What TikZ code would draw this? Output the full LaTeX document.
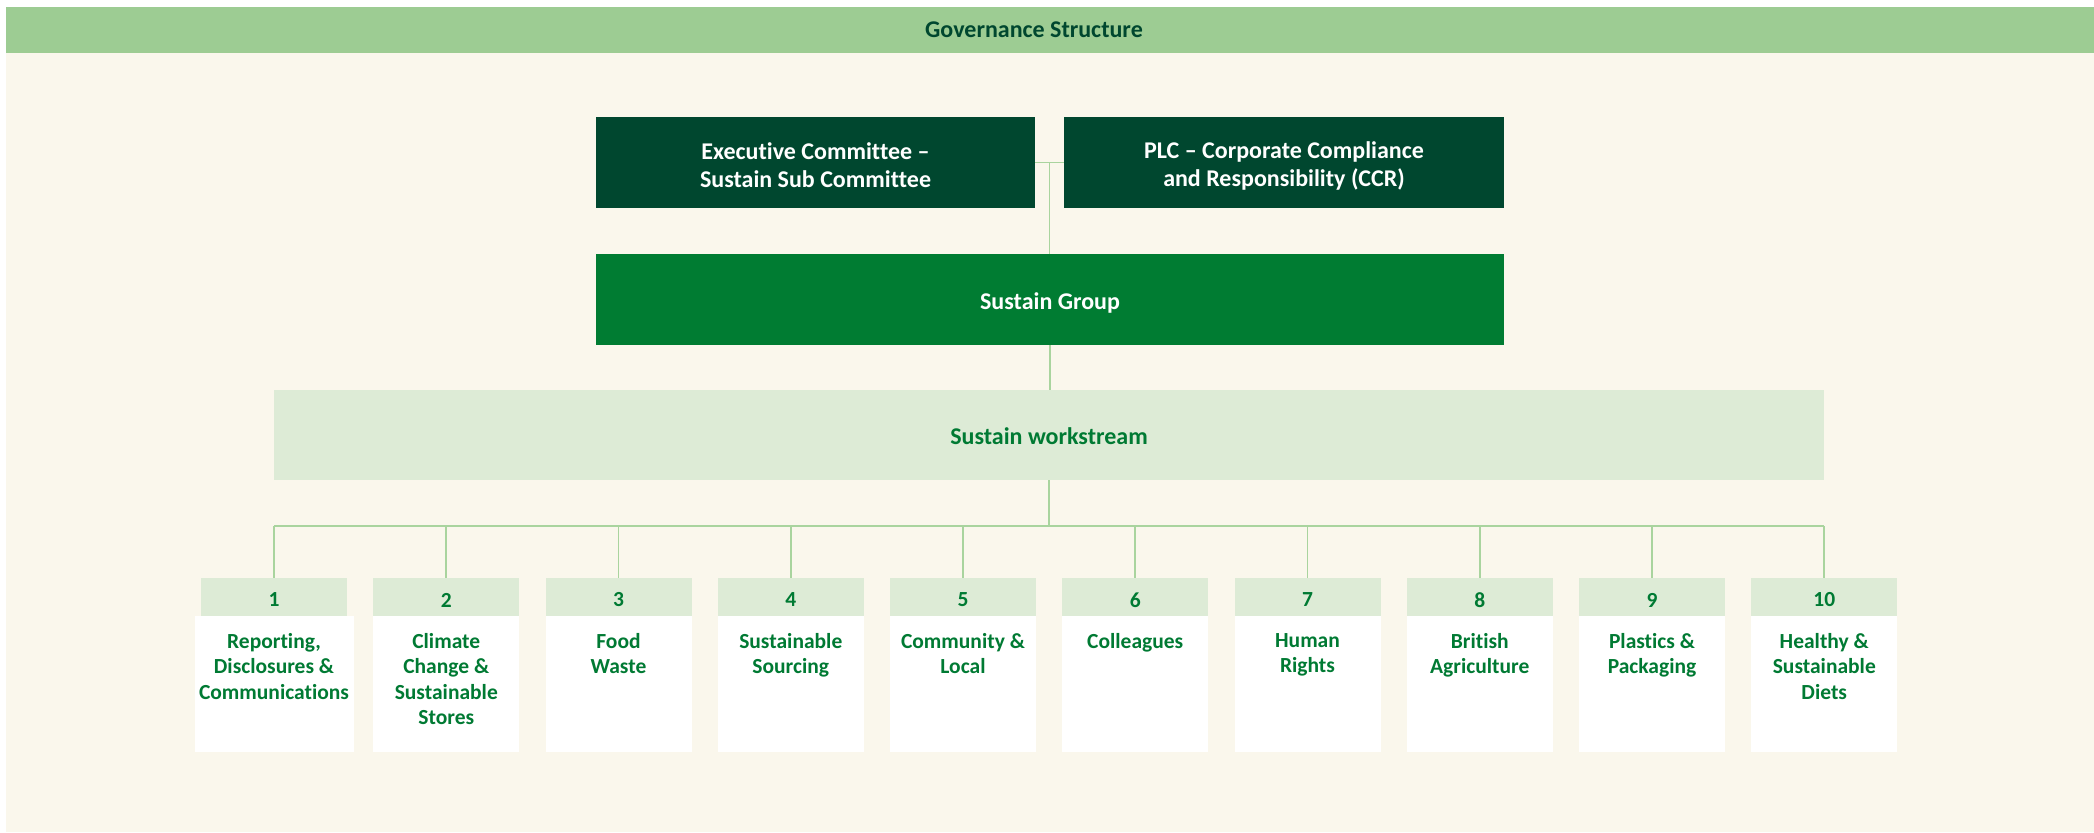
\documentclass[tikz,border=0pt]{standalone}
\usepackage{fontspec}
\setmainfont[Ligatures=NoCommon]{Carlito}
\usetikzlibrary{calc}
\definecolor{band}{HTML}{9DCC93}
\definecolor{cream}{HTML}{FAF7EC}
\definecolor{darkg}{HTML}{00472F}
\definecolor{groupg}{HTML}{007C32}
\definecolor{wsg}{HTML}{DDEBD6}
\definecolor{txtg}{HTML}{007A33}
\definecolor{lineg}{HTML}{A9D49E}
\tikzset{
  box/.style={inner sep=0pt, draw=none},
  toptxt/.style={inner sep=0pt, align=center, font=\bfseries\fontsize{12}{14}\selectfont},
  topbox/.style={box, fill=darkg, minimum height=45.5pt},
  numbox/.style={box, fill=wsg, minimum width=73pt, minimum height=19pt},
  numtxt/.style={inner sep=0pt, text=txtg, font=\bfseries\fontsize{10.75}{12}\selectfont},
  bodybox/.style={box, fill=white, minimum width=73pt, minimum height=68pt},
  bodytxt/.style={inner sep=0pt, align=center, text=txtg, font=\bfseries\fontsize{10.75}{12.7}\selectfont, anchor=north},
  conn/.style={draw=lineg, line width=0.8pt}
}
\begin{document}
\begin{tikzpicture}[x=0.5pt,y=-0.5pt]
\useasboundingbox (0,0) rectangle (2094,832);
\fill[white] (0,0) rectangle (2094,832);
\fill[cream] (6,53) rectangle (2094,832);
\node[box, fill=band, minimum width=1044pt, minimum height=23pt] (title) at (1050,30) {};
\node[inner sep=0pt, text=darkg, font=\bfseries\fontsize{12}{12}\selectfont] (titletxt) at (1034,30) {Governance Structure};
\node[topbox, minimum width=219.5pt] (exec) at (815.5,162.5) {};
\node[toptxt, text=white] (exectxt) at (815.5,165.5) {Executive Committee --\\Sustain Sub Committee};
\node[topbox, minimum width=220pt] (plc) at (1284,162.5) {};
\node[toptxt, text=white] (plctxt) at (1284,165.5) {PLC -- Corporate Compliance\\and Responsibility (CCR)};
\node[box, fill=groupg, minimum width=454pt, minimum height=45.5pt] (group) at (1050,299.5) {};
\node[toptxt, text=white] (grouptxt) at (1050,302.5) {Sustain Group};
\node[box, fill=wsg, minimum width=775pt, minimum height=45pt] (ws) at (1049,435) {};
\node[toptxt, text=txtg] (wstxt) at (1049,436.5) {Sustain workstream};
\coordinate (j) at ($(exec.east)!0.5!(plc.west)$);
\draw[conn] (exec.east) -- (plc.west);
\draw[conn] (j) -- (j |- group.north);
\draw[conn] (group.south) -- (group.south |- ws.north);
\coordinate (bus) at (1049,526);
\foreach \i/\t in {1/{Reporting,\\Disclosures \&\\Communications},
                   2/{Climate\\Change \&\\Sustainable\\Stores},
                   3/{Food\\Waste},
                   4/{Sustainable\\Sourcing},
                   5/{Community \&\\Local},
                   6/{Colleagues},
                   7/{Human\\Rights},
                   8/{British\\Agriculture},
                   9/{Plastics \&\\Packaging},
                   10/{Healthy \&\\Sustainable\\Diets}} {
  \pgfmathsetmacro{\cx}{274+172.25*(\i-1)}
  \ifnum\i=1
    \node[bodybox, minimum width=79.5pt] (b\i) at (\cx,684) {};
  \else
    \node[bodybox] (b\i) at (\cx,684) {};
  \fi
  \node[numbox] (n\i) at (\cx,597) {};
  \node[numtxt] (d\i) at (\cx,600) {\i};
  \node[bodytxt] (t\i) at (\cx,633) {\t};
}
\draw[conn] (ws.south) -- (ws.south |- bus);
\draw[conn] (n1.north |- bus) -- (n10.north |- bus);
\foreach \i in {1,...,10} {
  \draw[conn] (n\i.north |- bus) -- (n\i.north);
}
\end{tikzpicture}
\end{document}
